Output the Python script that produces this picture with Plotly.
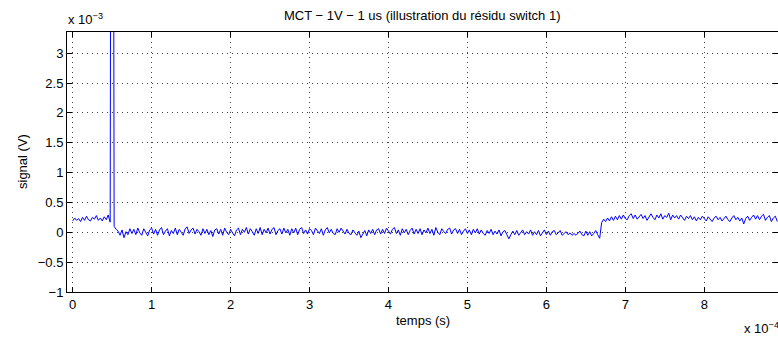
import numpy as np
import plotly.graph_objects as go

# Sample grid: 2.5 us step, expressed in units of 1e-4 s
DT_E4 = 0.025

# Signal samples in units of 1e-3 V
pre_switch = [0.19, 0.24, 0.20, 0.23, 0.18, 0.25, 0.20, 0.27, 0.21, 0.19,
              0.25, 0.22, 0.28, 0.20, 0.24, 0.19, 0.26, 0.21, 0.29, 0.17]
switch_peak = [20.0]
between = [
    0.10, 0.05, 0.02, -0.05, 0.04, -0.09, 0.01, -0.04, 0.06, -0.02,
    0.05, -0.04, 0.07, -0.01, -0.05, 0.06, 0.00, -0.06, 0.04, 0.07,
    -0.03, 0.05, -0.05, 0.04, 0.08, -0.04, 0.02, 0.06, -0.06, 0.03,
    -0.02, 0.07, -0.04, 0.05, 0.00, -0.05, 0.06, 0.09, -0.02, 0.04,
    0.07, -0.03, 0.05, 0.01, -0.05, 0.06, -0.02, 0.05, -0.04, 0.03,
    -0.07, 0.04, 0.06, -0.03, 0.05, -0.05, 0.07, 0.00, -0.04, 0.05,
    -0.01, -0.06, 0.04, 0.07, -0.04, 0.05, 0.00, 0.08, -0.03, 0.06,
    0.01, -0.05, 0.06, -0.02, 0.08, -0.04, 0.05, -0.01, 0.07, -0.03,
    0.05, 0.08, -0.04, 0.03, 0.06, -0.03, 0.07, -0.01, 0.05, -0.05,
    0.06, -0.01, 0.07, -0.04, 0.05, 0.08, -0.02, 0.04, -0.03, 0.06,
    0.03, -0.04, 0.07, 0.02, -0.02, 0.06, -0.05, 0.04, 0.08, -0.01,
    0.05, -0.02, -0.04, 0.06, 0.00, 0.07, 0.01, -0.03, 0.05, -0.02,
    -0.04, 0.04, -0.01, -0.05, 0.02, -0.09, -0.03, 0.03, -0.06, 0.04,
    -0.02, 0.05, -0.04, 0.04, 0.06, -0.03, 0.05, -0.02, 0.07, 0.01,
    -0.03, 0.05, 0.08, -0.02, 0.04, -0.05, 0.06, -0.01, 0.05, -0.04,
    0.03, 0.07, -0.03, 0.05, -0.02, 0.06, -0.04, 0.04, -0.01, 0.07,
    -0.02, 0.05, -0.05, 0.08, 0.00, -0.04, 0.06, 0.01, -0.02, 0.05,
    0.07, -0.03, 0.04, 0.06, -0.02, 0.05, -0.04, 0.02, 0.06, -0.02,
    0.04, -0.04, 0.05, -0.01, 0.06, -0.03, 0.04, -0.02, -0.05, 0.03,
    -0.02, 0.05, -0.04, 0.02, -0.03, 0.04, -0.06, 0.01, 0.03, -0.04,
    -0.11, -0.04, 0.02, -0.04, 0.03, -0.05, -0.01, 0.04, -0.04, 0.01,
    -0.03, 0.04, -0.05, 0.01, -0.04, 0.03, -0.06, -0.01, 0.04, -0.04,
    0.02, -0.05, 0.01, 0.03, -0.04, -0.01, 0.03, -0.05, -0.02, 0.01,
    -0.04, -0.01, -0.05, -0.02, -0.05, -0.01, 0.02, -0.04, -0.06, 0.02,
    -0.05, 0.01, -0.06, -0.02, 0.03, -0.04, -0.10,
]
post_switch = [
    0.16, 0.22, 0.18, 0.24, 0.19, 0.26, 0.20, 0.27, 0.21, 0.28,
    0.22, 0.29, 0.23, 0.21, 0.28, 0.31, 0.23, 0.29, 0.22, 0.27,
    0.30, 0.23, 0.28, 0.20, 0.26, 0.31, 0.25, 0.21, 0.29, 0.24,
    0.31, 0.22, 0.28, 0.25, 0.32, 0.21, 0.29, 0.24, 0.28, 0.22,
    0.29, 0.24, 0.20, 0.27, 0.23, 0.28, 0.21, 0.26, 0.19, 0.25,
    0.21, 0.27, 0.22, 0.19, 0.26, 0.21, 0.18, 0.24, 0.27, 0.21,
    0.25, 0.19, 0.24, 0.27, 0.21, 0.18, 0.24, 0.28, 0.21, 0.25,
    0.19, 0.24, 0.14, 0.23, 0.27, 0.20, 0.25, 0.29, 0.22, 0.28,
    0.21, 0.27, 0.30, 0.20, 0.25, 0.28, 0.18, 0.24, 0.27, 0.18,
]

x_ticks = [0, 1, 2, 3, 4, 5, 6, 7, 8]
y_ticks = [-1, -0.5, 0, 0.5, 1, 1.5, 2, 2.5, 3]
y_tick_text = ["\u22121", "\u22120.5", "0", "0.5", "1", "1.5", "2", "2.5", "3"]

signal_mv = np.array(pre_switch + switch_peak + between + post_switch)
t_s = np.arange(len(signal_mv)) * DT_E4 * 1e-4
signal_v = signal_mv * 1e-3

FONT = "Liberation Sans, Arial, Helvetica, sans-serif"
W, H = 778, 338
L, R, T, B = 67, 0, 32, 46
PW, PH = W - L - R, H - T - B


def px(x):
    return (x - L) / PW


def py(y):
    return (H - B - y) / PH


fig = go.Figure()
fig.add_trace(go.Scatter(x=t_s, y=signal_v, mode="lines",
                         line=dict(color="#0000ff", width=1),
                         hoverinfo="skip", showlegend=False))

axis_common = dict(
    showline=True, linecolor="black", linewidth=1, mirror="ticks",
    ticks="inside", ticklen=5, tickcolor="black", tickwidth=1,
    showgrid=True, gridcolor="#444444", gridwidth=1, griddash="1px,4px",
    zeroline=False, tickfont=dict(family=FONT, size=13, color="black"),
)

fig.update_layout(
    width=W, height=H,
    margin=dict(l=L, r=R, t=T, b=B, pad=0),
    paper_bgcolor="white", plot_bgcolor="white",
    font=dict(family=FONT, size=13, color="black"),
    xaxis=dict(range=[-0.072e-4, 8.934e-4],
               tickvals=[v * 1e-4 for v in x_ticks],
               ticktext=[str(v) for v in x_ticks], **axis_common),
    yaxis=dict(range=[-1e-3, 3.355e-3],
               tickvals=[v * 1e-3 for v in y_ticks],
               ticktext=y_tick_text, **axis_common),
    annotations=[
        dict(text="MCT \u2212 1V \u2212 1 us (illustration du résidu switch 1)",
             x=px(422.5), y=py(15), xref="paper", yref="paper",
             xanchor="center", yanchor="middle", showarrow=False,
             font=dict(family=FONT, size=13)),
        dict(text="x 10<sup>\u22123</sup>", x=px(66), y=py(19),
             xref="paper", yref="paper", xanchor="left", yanchor="middle",
             showarrow=False, font=dict(family=FONT, size=13)),
        dict(text="temps (s)", x=px(422.5), y=py(320),
             xref="paper", yref="paper", xanchor="center", yanchor="middle",
             showarrow=False, font=dict(family=FONT, size=13)),
        dict(text="signal (V)", x=px(22), y=py(162), textangle=-90,
             xref="paper", yref="paper", xanchor="center", yanchor="middle",
             showarrow=False, font=dict(family=FONT, size=13)),
        dict(text="x 10<sup>\u22124</sup>", x=px(742), y=py(328),
             xref="paper", yref="paper", xanchor="left", yanchor="middle",
             showarrow=False, font=dict(family=FONT, size=13)),
    ],
)

fig.write_html("out.html")
